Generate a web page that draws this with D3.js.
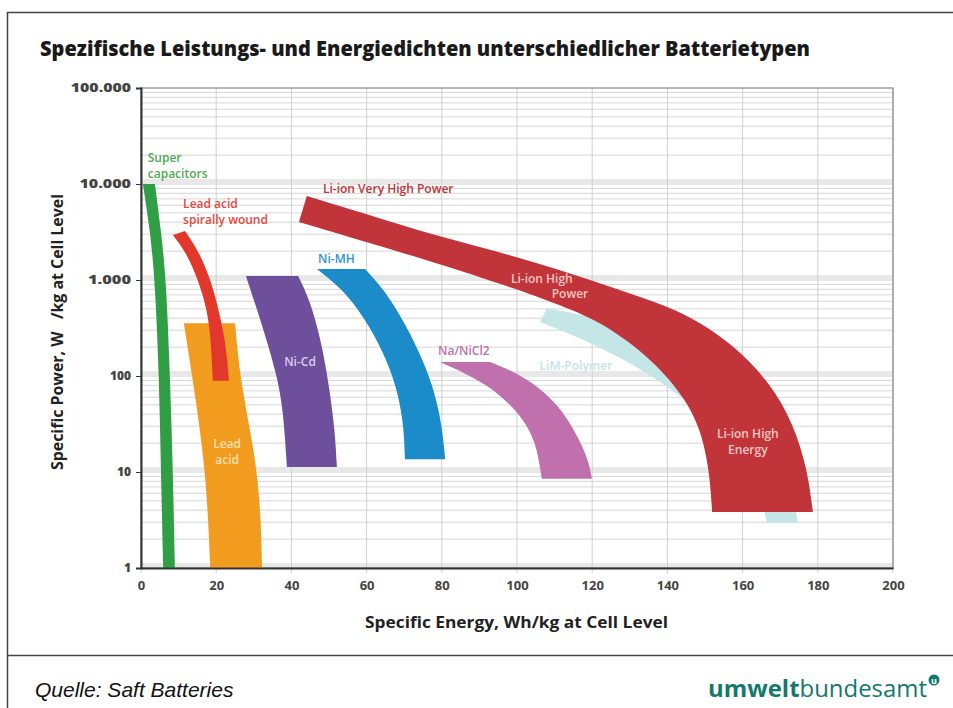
<!DOCTYPE html>
<html>
<head>
<meta charset="utf-8">
<script src="https://cdn.jsdelivr.net/npm/d3@7"></script>
<style>
  body { margin: 0; background: #fff; }
  svg { display: block; }
  .tick text { font-family: "Open Sans", sans-serif; font-weight: 700; fill: #444; }
</style>
</head>
<body>
<div class="chart"></div>
<script>
// Axis ticks
var xTicks = [0, 20, 40, 60, 80, 100, 120, 140, 160, 180, 200];
var yTicks = [1, 10, 100, 1000, 10000, 100000];
var yTickLabels = ["1", "10", "100", "1.000", "10.000", "100.000"];

// Band edges, [Wh/kg, W/kg]
var superCapLeft  = [[0.5, 10000], [2.4, 3300], [3.7, 1000], [4.8, 100], [5.3, 10], [5.9, 1]];
var superCapRight = [[3.7, 10000], [5.3, 3300], [6.7, 1000], [7.7, 100], [8.5, 10], [9.0, 1]];

var spiralLeft  = [[8.5, 2940], [12.0, 1950], [15.2, 1000], [17.6, 490], [18.6, 237], [19.1, 89]];
var spiralRight = [[11.7, 3230], [15.2, 2050], [18.6, 1000], [21.0, 432], [22.6, 210], [23.4, 89]];

var leadAcidLeft  = [[11.4, 355], [13.6, 100], [15.7, 27.4], [17.0, 10], [17.9, 3.16], [18.4, 1]];
var leadAcidRight = [[25.0, 355], [26.3, 100], [29.0, 27.4], [30.9, 10], [31.9, 3.16], [32.2, 1]];

var niCdLeft  = [[27.9, 1100], [32.4, 324], [36.2, 100], [37.8, 45], [38.8, 11.3]];
var niCdRight = [[41.8, 1100], [44.9, 621], [48.1, 220], [50.3, 66.5], [51.6, 25.6], [52.1, 11.3]];

var niMhLeft  = [[46.8, 1300], [54.8, 733], [60.9, 324], [65.4, 147], [68.4, 66.5], [69.9, 29.4], [70.2, 13.6]];
var niMhRight = [[59.6, 1300], [65.4, 733], [70.7, 324], [75.0, 147], [78.2, 66.5], [80.1, 29.4], [80.9, 13.6]];

var naNiClLeft  = [[79.5, 140], [92.0, 84.6], [100.8, 41], [104.8, 21.5], [106.1, 11.3], [106.6, 8.5]];
var naNiClRight = [[92.8, 140], [100.0, 108], [108.0, 66.5], [113.3, 37.4], [117.6, 18.2], [119.4, 11.3], [119.9, 8.5]];

var limPolyOuter = [[108.0, 511], [122.1, 402], [135.4, 267], [148.7, 130], [159.3, 56], [167.3, 21.5], [172.6, 8.25], [174.7, 2.94]];
var limPolyInner = [[106.1, 365], [119.4, 226], [132.7, 121], [143.4, 63], [154.0, 27.4], [162.0, 10.5], [165.2, 5.1], [166.5, 2.94]];

var liIonOuter = [[44.1, 7500], [60.9, 4750], [77.7, 2940], [95.5, 1960], [113.3, 1212], [127.4, 787], [139.9, 536],
                  [148.7, 365], [158.5, 196], [167.3, 84.6], [173.4, 32.4], [177.1, 11.3], [178.7, 3.83]];
var liIonInner = [[42.0, 4020], [60.9, 2430], [77.7, 1540], [100.8, 787], [113.3, 511], [122.9, 357], [136.2, 147],
                  [145.2, 56], [149.5, 23.2], [151.3, 8.9], [151.9, 3.83]];

var bands = [
  {name: "LiM-Polymer", a: limPolyOuter, b: limPolyInner, color: "#c4e6e6"},
  {name: "Super capacitors", a: superCapLeft, b: superCapRight, color: "#2f9e44"},
  {name: "Lead acid", a: leadAcidLeft, b: leadAcidRight, color: "#f29c1f"},
  {name: "Lead acid spirally wound", a: spiralLeft, b: spiralRight, color: "#e2372b"},
  {name: "Ni-Cd", a: niCdLeft, b: niCdRight, color: "#6e4f9c"},
  {name: "Ni-MH", a: niMhLeft, b: niMhRight, color: "#1b8bc9"},
  {name: "Na/NiCl2", a: naNiClLeft, b: naNiClRight, color: "#c071ad"},
  {name: "Li-ion", a: liIonOuter, b: liIonInner, color: "#c1343a"}
];

var width = 953;
var height = 708;
var margin = {top: 88, right: 60, bottom: 140, left: 141};

var x = d3.scaleLinear()
    .domain([0, 200])
    .range([margin.left, width - margin.right]);

var y = d3.scaleLog()
    .domain([1, 100000])
    .range([height - margin.bottom, margin.top]);

var svg = d3.select(".chart").append("svg")
    .attr("width", width)
    .attr("height", height);

// outer frame
svg.append("path")
    .attr("d", "M953,12.5H7.5V708M7.5,655.5H953")
    .attr("fill", "none")
    .attr("stroke", "#444")
    .attr("stroke-width", 1.5);

// Title
svg.append("text")
    .attr("x", 40)
    .attr("y", 56)
    .attr("textLength", 770)
    .attr("lengthAdjust", "spacingAndGlyphs")
    .style("font-family", "'Open Sans', sans-serif")
    .style("font-weight", 800)
    .style("font-size", "21px")
    .attr("fill", "#1a1a1a")
    .text("Spezifische Leistungs- und Energiedichten unterschiedlicher Batterietypen");

// grid: minor log lines
var minor = [];
for (var e = 0; e < 5; e++) {
    for (var m = 2; m <= 9; m++) minor.push(m * Math.pow(10, e));
}

var grid = svg.append("g");

grid.selectAll(".major")
    .data(yTicks.slice(0, -1))
    .enter().append("line")
        .attr("x1", x(0)).attr("x2", x(200))
        .attr("y1", function(d) { return y(d) - 2; })
        .attr("y2", function(d) { return y(d) - 2; })
        .attr("stroke", "#e8e8e8")
        .attr("stroke-width", 6);

grid.selectAll(".minor")
    .data(minor)
    .enter().append("line")
        .attr("x1", x(0)).attr("x2", x(200))
        .attr("y1", function(d) { return y(d); })
        .attr("y2", function(d) { return y(d); })
        .attr("stroke", "#d6d6d6")
        .attr("stroke-width", 1);

grid.selectAll(".vgrid")
    .data(xTicks)
    .enter().append("line")
        .attr("x1", function(d) { return x(d); })
        .attr("x2", function(d) { return x(d); })
        .attr("y1", y(100000)).attr("y2", y(1) + 5)
        .attr("stroke", "#cfcfcf")
        .attr("stroke-width", 1);

// frame of plot
svg.append("rect")
    .attr("x", x(0)).attr("y", y(100000))
    .attr("width", x(200) - x(0))
    .attr("height", y(1) - y(100000))
    .attr("fill", "none")
    .attr("stroke", "#888")
    .attr("stroke-width", 1.2);

// bands
var edge = d3.line()
    .x(function(d) { return x(d[0]); })
    .y(function(d) { return y(d[1]); })
    .curve(d3.curveBasis);

function bandPath(band) {
    var d1 = edge(band.a);
    var d2 = edge(band.b.slice().reverse());
    return d1 + "L" + d2.slice(1) + "Z";
}

svg.append("g").selectAll("path")
    .data(bands)
    .enter().append("path")
        .attr("d", bandPath)
        .attr("fill", function(d) { return d.color; });

// axes
svg.append("g")
    .attr("transform", "translate(0," + y(1) + ")")
    .call(d3.axisBottom(x).tickValues(xTicks).tickSize(0).tickPadding(13))
    .call(function(g) { g.select(".domain").attr("stroke", "#333").attr("stroke-width", 2); })
    .selectAll("text").style("font-size", "13px");

svg.append("g")
    .attr("transform", "translate(" + x(0) + ",0)")
    .call(d3.axisLeft(y).tickValues(yTicks).tickSize(5).tickPadding(5)
        .tickFormat(function(d, i) { return yTickLabels[i]; }))
    .call(function(g) {
        g.select(".domain").attr("stroke", "#333").attr("stroke-width", 2);
        g.selectAll("line").attr("stroke", "#333");
    })
    .selectAll("text").style("font-size", "12px").style("font-weight", 800)
        .attr("textLength", function(d, i) { return yTickLabels[i].length > 3 ? yTickLabels[i].length * 8.6 : null; })
        .attr("lengthAdjust", "spacingAndGlyphs");

// axis titles
svg.append("text")
    .attr("x", 365)
    .attr("y", 628)
    .attr("textLength", 303)
    .attr("lengthAdjust", "spacingAndGlyphs")
    .style("font-family", "'Open Sans', sans-serif")
    .style("font-weight", 700)
    .style("font-size", "16px")
    .attr("fill", "#222")
    .text("Specific Energy, Wh/kg at Cell Level");

svg.append("text")
    .attr("transform", "translate(63,470) rotate(-90)")
    .attr("textLength", 276)
    .attr("lengthAdjust", "spacingAndGlyphs")
    .style("font-family", "'Open Sans', sans-serif")
    .style("font-weight", 700)
    .style("font-size", "16px")
    .style("white-space", "pre")
    .attr("fill", "#222")
    .text("Specific Power, W\u00a0\u00a0\u00a0/kg at Cell Level");

// band labels: [lines, energy, power, anchor, colour]
var labels = [
    [["Super", "capacitors"], 1.8, 16900, "start", "#4cab4f"],
    [["Lead acid", "spirally wound"], 11.2, 5600, "start", "#e3493c"],
    [["Li-ion Very High Power"], 48.4, 8000, "start", "#c1343a"],
    [["Ni-MH"], 47.1, 1500, "start", "#2e93cf"],
    [["Ni-Cd"], 42.3, 127, "middle", "#d8cde9"],
    [["Na/NiCl2"], 79.0, 165, "start", "#c071ad"],
    [["LiM-Polymer"], 106.0, 115, "start", "#c4e3e3"],
    [["Li-ion High"], 106.6, 930, "middle", "#f3c6c4"],
    [["Power"], 114.1, 649, "middle", "#f3c6c4"],
    [["Li-ion High", "Energy"], 161.4, 22.6, "middle", "#f3c6c4"],
    [["Lead", "acid"], 22.9, 17.8, "middle", "#fbe0b4"]
];

var lab = svg.append("g")
    .style("font-family", "'Open Sans', sans-serif")
    .style("font-weight", 600)
    .style("font-size", "12px");

labels.forEach(function(l) {
    var t = lab.append("text")
        .attr("x", x(l[1]))
        .attr("y", y(l[2]))
        .attr("text-anchor", l[3])
        .attr("fill", l[4]);
    l[0].forEach(function(s, i) {
        t.append("tspan")
            .attr("x", x(l[1]))
            .attr("dy", i ? 16 : 0)
            .text(s);
    });
});

// footer
svg.append("text")
    .attr("x", 35)
    .attr("y", 697)
    .style("font-family", "'Liberation Sans', Arial, sans-serif")
    .style("font-style", "italic")
    .style("font-size", "21px")
    .attr("fill", "#111")
    .text("Quelle: Saft Batteries");

var logo = svg.append("text")
    .attr("x", 708)
    .attr("y", 697)
    .attr("textLength", 219)
    .attr("lengthAdjust", "spacingAndGlyphs")
    .style("font-family", "'Open Sans', sans-serif")
    .style("font-size", "23px")
    .attr("fill", "#15786d");
logo.append("tspan").style("font-weight", 700).text("umwelt");
logo.append("tspan").style("font-weight", 400).text("bundesamt");

svg.append("circle")
    .attr("cx", 934).attr("cy", 680).attr("r", 5.5)
    .attr("fill", "#15786d");
svg.append("text")
    .attr("x", 934).attr("y", 683.5)
    .attr("text-anchor", "middle")
    .style("font-family", "'Open Sans', sans-serif")
    .style("font-weight", 700)
    .style("font-size", "9px")
    .attr("fill", "#fff")
    .text("u");
</script>
</body>
</html>
